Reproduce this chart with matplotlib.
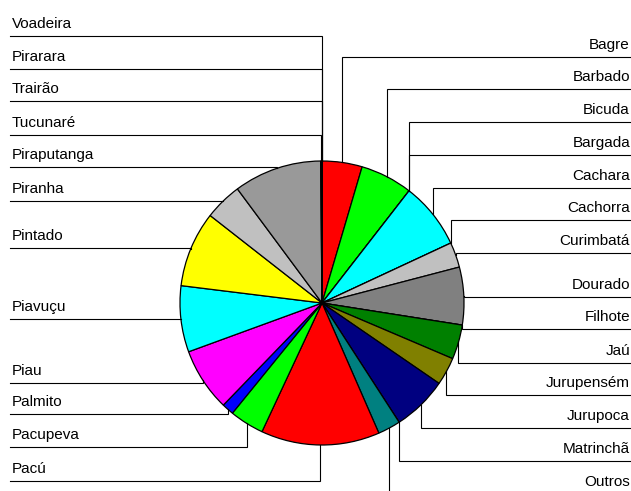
import numpy as np
import matplotlib
matplotlib.use("Agg")
import matplotlib.pyplot as plt

# slice data, clockwise from 12 o'clock (percent of catch)
species = ["Bagre", "Barbado", "Bicuda", "Bargada", "Cachara", "Cachorra",
           "Curimbatá", "Dourado", "Filhote", "Jaú", "Jurupensém", "Jurupoca",
           "Matrinchã", "Outros", "Pacú", "Pacupeva", "Palmito", "Piau",
           "Piavuçu", "Pintado", "Piranha", "Piraputanga", "Tucunaré",
           "Trairão", "Pirarara", "Voadeira"]
share = [4.56, 5.94, 0, 0, 7.56, 0,
         2.86, 6.56, 0, 3.92, 3.17, 6.28,
         0, 2.58, 13.5, 3.92, 1.36, 7.19,
         7.53, 8.61, 4.28, 10.0, 0.15,
         0, 0, 0]
colors = ["#FF0000", "#00FF00", "#0000FF", "#FFFF00", "#00FFFF", "#FF00FF",
          "#C0C0C0", "#808080", "#800000", "#008000", "#808000", "#000080",
          "#800080", "#008080", "#FF0000", "#00FF00", "#0000FF", "#FF00FF",
          "#00FFFF", "#FFFF00", "#C0C0C0", "#999999", "#303030",
          "#808080", "#808080", "#808080"]

# label underline rows (pixels from top), same order as species
label_rows = [57, 89, 122, 155, 188, 220, 253, 297, 329, 363, 395, 428,
              461, 494, 481, 447, 414, 383, 319, 248, 201, 167, 135, 101,
              69, 36]

W, H = 631, 491
cx, cy, r = 322, H - 303, 142

fig = plt.figure(figsize=(W / 100, H / 100), dpi=100)
ax = fig.add_axes([0, 0, 1, 1])
ax.pie(share, colors=colors, startangle=90, counterclock=False,
       center=(cx, cy), radius=r,
       wedgeprops=dict(edgecolor="black", linewidth=0.9))
ax.set_xlim(0, W)
ax.set_ylim(0, H)
ax.set_aspect("equal")
ax.axis("off")

total = sum(share)
cum = np.cumsum([0] + share[:-1])
for name, v, c0, row in zip(species, share, cum, label_rows):
    frac = (c0 + v / 2) / total
    ang = np.deg2rad(90 - 360 * frac)
    axp = cx + r * np.cos(ang)
    ayp = cy + r * np.sin(ang)
    uy = H - row
    if frac < 0.5:
        ax.plot([W, axp, axp], [uy, uy, ayp], color="black", lw=0.8,
                solid_joinstyle="miter")
        ax.text(W - 1, uy + 8, name, ha="right", va="baseline",
                fontsize=11, family="Liberation Sans")
    else:
        ax.plot([10, axp, axp], [uy, uy, ayp], color="black", lw=0.8,
                solid_joinstyle="miter")
        ax.text(12, uy + 8, name, ha="left", va="baseline",
                fontsize=11, family="Liberation Sans")

fig.savefig("out.png", dpi=100)
